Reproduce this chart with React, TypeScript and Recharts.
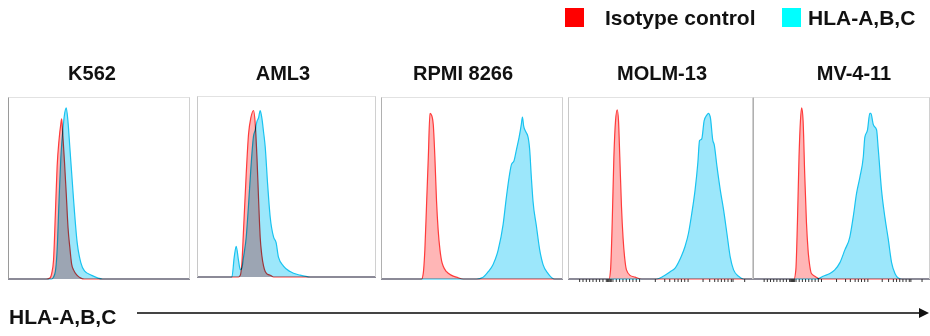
import { AreaChart, Area, XAxis, YAxis } from 'recharts'

// histogram data: x = channel position (% of panel width), values = % of panel height
const titles = ['K562', 'AML3', 'RPMI 8266', 'MOLM-13', 'MV-4-11']
const seriesNames = ['Isotype control', 'HLA-A,B,C']
const axisLabel = 'HLA-A,B,C'

const k562X = [0, 21, 23, 24, 25, 26, 27, 28, 29, 29.5, 30, 31, 32, 33, 34, 35, 36, 38, 40, 42, 46, 52, 100]
const k562Iso = [0, 0, 0.5, 3, 10, 35, 62, 76, 85, 88, 81, 65, 47, 28, 17, 8, 5, 2, 0.5, 0, 0, 0, 0]
const k562Hla = [0, 0, 0, 0, 1, 4, 16, 42, 66, 74, 80, 90, 94, 86, 72, 58, 44, 20, 9, 4.5, 2, 0, 0]

const aml3X = [0, 19.5, 20.8, 21.9, 23.2, 24.2, 25.1, 26, 27.5, 28.8, 30.1, 31.6, 32.5, 33.5, 34.4, 35.3, 36.2, 37.2, 38.1, 39.4, 40.9, 42.8, 44.2, 45.5, 48.3, 52, 57.6, 63.2, 100]
const aml3Iso = [0, 0, 0, 0, 0, 1, 8, 26, 57, 79, 88, 92, 85, 66, 43, 22, 12, 6, 3, 1.5, 1, 0, 0, 0, 0, 0, 0, 0, 0]
const aml3Hla = [0, 0, 11, 17, 9, 4, 5, 11, 22, 40, 60, 78, 81, 86, 88, 92, 88, 80, 72, 52, 33, 22, 19, 11, 6, 3, 1, 0, 0]

const rpmiX = [0, 22.3, 23.2, 24.1, 25, 26, 26.9, 27.8, 28.7, 29.6, 30.5, 31.4, 32.4, 33.3, 34.2, 36, 38.8, 41.5, 45.2, 52.5, 56.1, 58.9, 61.6, 64.4, 67.1, 68.9, 70.4, 71.7, 73.1, 74.4, 75.9, 77.1, 77.7, 78.4, 79.5, 80.8, 81.7, 82.6, 83.5, 85.4, 87.2, 89, 91.8, 95.4, 100]
const rpmiIso = [0, 0, 3, 16, 40, 67, 91, 90, 85, 67, 43, 27, 16, 10, 7, 4, 2, 1, 0, 0, 0, 0, 0, 0, 0, 0, 0, 0, 0, 0, 0, 0, 0, 0, 0, 0, 0, 0, 0, 0, 0, 0, 0, 0, 0]
const rpmiHla = [0, 0, 0, 0, 0, 0, 0, 0, 0, 0, 0, 0, 0, 0, 0, 0, 0, 0, 0, 0, 1, 4, 8, 16, 30, 45, 56, 63, 65, 71, 78, 85, 89, 84, 81, 78, 71, 56, 43, 29, 16, 8, 3, 0, 0]

const molmX = [0, 22.2, 23, 23.9, 24.8, 25.7, 26.6, 27.3, 28, 28.9, 29.8, 30.7, 31.6, 33.5, 36.2, 39.8, 47.9, 51.5, 55.2, 57.9, 60.6, 63.3, 65.1, 66.9, 68.7, 70.2, 71.1, 72.3, 73.6, 75, 75.9, 76.9, 78.3, 79, 80.5, 82.3, 84.1, 85.9, 87.7, 89.5, 92.2, 94.9, 100]
const molmIso = [0, 0, 5, 31, 67, 87, 93, 87, 67, 40, 22, 11, 5, 2, 1, 0, 0, 0, 0, 0, 0, 0, 0, 0, 0, 0, 0, 0, 0, 0, 0, 0, 0, 0, 0, 0, 0, 0, 0, 0, 0, 0, 0]
const molmHla = [0, 0, 0, 0, 0, 0, 0, 0, 0, 0, 0, 0, 0, 0, 0, 0, 0, 1.5, 4, 6, 11, 18, 25, 36, 49, 64, 76, 77, 87, 90, 91, 89, 76, 74, 62, 49, 38, 25, 12, 5, 1.5, 0, 0]

const mv411X = [0, 23.2, 24.2, 25.1, 26, 26.8, 27.5, 28.3, 29.2, 30.2, 31.1, 32.1, 33, 34.9, 35.8, 37.7, 39.6, 43.4, 46.2, 49.1, 51.9, 54.7, 56.6, 58.5, 60.4, 62.3, 63.2, 64.7, 66, 66.6, 67.9, 69.8, 70.8, 72.6, 74.5, 76.4, 78.3, 80.2, 82.1, 84, 100]
const mv411Iso = [0, 0, 5, 31, 67, 87, 94, 87, 58, 31, 16, 7, 3, 1.5, 1, 0, 0, 0, 0, 0, 0, 0, 0, 0, 0, 0, 0, 0, 0, 0, 0, 0, 0, 0, 0, 0, 0, 0, 0, 0, 0]
const mv411Hla = [0, 0, 0, 0, 0, 0, 0, 0, 0, 0, 0, 0, 0, 0, 0, 0.5, 1.5, 3, 5, 9, 16, 23, 34, 47, 56, 67, 78, 82, 91, 91, 85, 82, 71, 49, 34, 22, 9, 3, 0.5, 0, 0]

// log-decade tick marks under the last two panels
const logTicks = [6.3, 8.1, 9.9, 11.7, 13.5, 15.3, 17.1, 18.9, 20.7, 21.3, 21.8, 22.3, 22.9, 23.4, 24.3, 26.1, 27.9, 29.7, 31.5, 33.3, 35.1, 36.9, 38.7, 47.2, 52.3, 55, 57.7, 59.5, 61.3, 63.1, 64.9, 73, 76.6, 79.3, 81.1, 82.9, 84.7, 86.5, 88.3, 89.2, 95.5]

const panels = [
  { x: k562X, iso: k562Iso, hla: k562Hla, left: 8, top: 97, w: 182, h: 182, tx: 92, lc: '#9a9a9a', ticks: false },
  { x: aml3X, iso: aml3Iso, hla: aml3Hla, left: 197, top: 96, w: 179, h: 181, tx: 283, lc: '#c8c8c8', ticks: false },
  { x: rpmiX, iso: rpmiIso, hla: rpmiHla, left: 381, top: 97, w: 182, h: 182, tx: 463, lc: '#b0b0b0', ticks: false },
  { x: molmX, iso: molmIso, hla: molmHla, left: 568, top: 97, w: 185, h: 182, tx: 662, lc: '#c8c8c8', ticks: true },
  { x: mv411X, iso: mv411Iso, hla: mv411Hla, left: 753, top: 97, w: 177, h: 182, tx: 854, lc: '#b0b0b0', ticks: true },
]

const RED = '#ff3b3b'
const RED_FILL = '#ffb6b6'
const BLUE = '#19c3f0'
const BLUE_FILL = '#9ce7fb'
const FONT = '"Liberation Sans", Arial, sans-serif'

function Panel({ p }: { p: (typeof panels)[number] }) {
  const data = p.x.map((x, i) => ({ x, iso: p.iso[i], hla: p.hla[i] }))
  return (
    <div style={{ position: 'absolute', left: p.left, top: p.top, width: p.w, height: p.h }}>
      <AreaChart width={p.w} height={p.h + 5} data={data} margin={{ top: 0, right: 0, bottom: 0, left: 0 }}>
        <XAxis
          dataKey="x" type="number" domain={[0, 100]} height={5} interval={0}
          ticks={p.ticks ? logTicks : []} tickFormatter={() => ''} tickSize={3} axisLine={false}
          tickLine={{ stroke: '#333', strokeWidth: 1 }}
        />
        <YAxis domain={[0, 100]} hide />
        <Area type="monotone" dataKey="iso" stroke={RED} strokeWidth={1.2} fill={RED_FILL} fillOpacity={1} isAnimationActive={false} />
        <Area className="hla-area" type="monotone" dataKey="hla" stroke={BLUE} strokeWidth={1.2} fill={BLUE_FILL} fillOpacity={1} isAnimationActive={false} />
      </AreaChart>
      <div
        style={{
          position: 'absolute', left: 0, top: 0, width: p.w, height: p.h, boxSizing: 'border-box', pointerEvents: 'none',
          borderTop: '1px solid #e2e2e2', borderRight: '1px solid #d0d0d0', borderLeft: `1px solid ${p.lc}`,
        }}
      />
    </div>
  )
}

export default function App() {
  return (
    <div style={{ position: 'absolute', left: 0, top: 0, width: 930, height: 336, background: '#fff', overflow: 'hidden' }}>
      <style>{'.hla-area { mix-blend-mode: multiply; }'}</style>
      {panels.map((p, i) => <Panel key={i} p={p} />)}
      <svg width={930} height={336} style={{ position: 'absolute', left: 0, top: 0, pointerEvents: 'none' }}>
        <rect x={565} y={8} width={19} height={19} fill="#ff0000" />
        <text x={605} y={25} fontFamily={FONT} fontWeight="bold" fontSize={21} fill="#111">{seriesNames[0]}</text>
        <rect x={782} y={8} width={19} height={19} fill="#00ffff" />
        <text x={808} y={25} fontFamily={FONT} fontWeight="bold" fontSize={21} fill="#111">{seriesNames[1]}</text>
        {panels.map((p, i) => (
          <text key={i} x={p.tx} y={80} textAnchor="middle" fontFamily={FONT} fontWeight="bold" fontSize={20} fill="#111">{titles[i]}</text>
        ))}
        <text x={9} y={324} fontFamily={FONT} fontWeight="bold" fontSize={21} fill="#111">{axisLabel}</text>
        <line x1={137} y1={313} x2={921} y2={313} stroke="#444" strokeWidth={2} />
        <path d="M919,308 L929,313 L919,318 Z" fill="#111" />
      </svg>
    </div>
  )
}
